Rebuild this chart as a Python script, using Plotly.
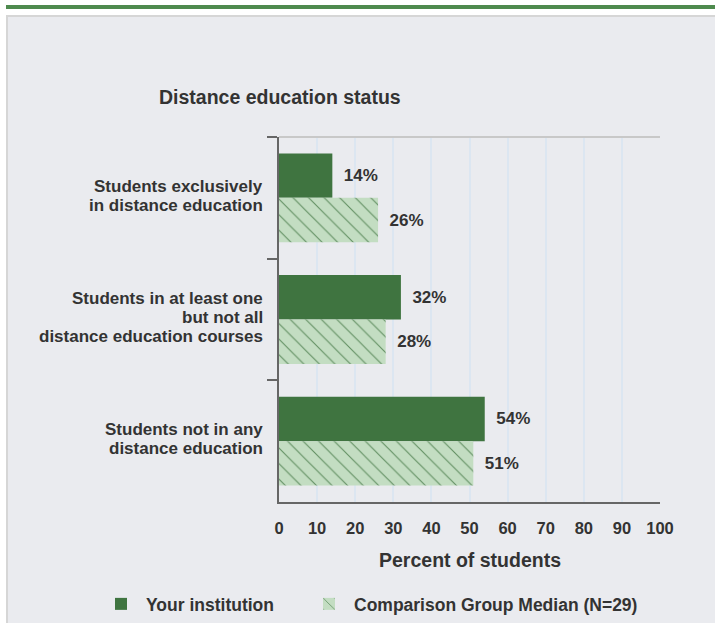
import plotly.graph_objects as go

categories = [
    "Students exclusively<br>in distance education",
    "Students in at least one<br>but not all<br>distance education courses",
    "Students not in any<br>distance education",
]
your_institution = [14, 32, 54]
comparison_median = [26, 28, 51]
series_names = ["Your institution", "Comparison Group Median (N=29)"]
x_ticks = list(range(0, 101, 10))

W, H = 715, 623
L, R, T, B = 279, 660, 137, 502


def px(x):
    return (x - L) / (R - L)


def py(y):
    return (B - y) / (B - T)


DARK = "#3F7440"
LIGHT = "#C3DDC2"
TXT = "#333333"
FONT = "Liberation Sans"

fig = go.Figure()
fig.add_trace(go.Bar(
    y=categories, x=your_institution, orientation="h", name=series_names[0],
    marker=dict(color=DARK, line=dict(width=0)),
    text=["\u2002" + f"{v}%" for v in your_institution], textposition="outside",
    textfont=dict(family=FONT, size=17, color=TXT, weight="bold"),
    cliponaxis=False, legend="legend",
))
fig.add_trace(go.Bar(
    y=categories, x=comparison_median, orientation="h", name=series_names[1],
    marker=dict(color=LIGHT, line=dict(width=0),
                pattern=dict(shape="\\", fgcolor=DARK, bgcolor=LIGHT, size=11,
                             solidity=0.1, fgopacity=0.75)),
    text=["\u2002" + f"{v}%" for v in comparison_median], textposition="outside",
    textfont=dict(family=FONT, size=17, color=TXT, weight="bold"),
    cliponaxis=False, legend="legend2",
))

shapes = [
    dict(type="rect", xref="paper", yref="paper", x0=px(6), x1=px(716), y0=py(9), y1=py(5),
         fillcolor="#4E8A4E", line=dict(width=0), layer="below"),
    dict(type="rect", xref="paper", yref="paper", x0=px(7), x1=px(730), y0=py(640), y1=py(16),
         fillcolor="#EAEBEF", line=dict(color="#D6D6D6", width=2), layer="below"),
    dict(type="line", xref="paper", yref="paper", x0=0, x1=1, y0=1, y1=1,
         line=dict(color="#C8C8C8", width=2), layer="above"),
]

annotations = [
    dict(text="<b>Distance education status</b>", xref="paper", yref="paper",
         x=px(280), y=py(97), xanchor="center", yanchor="middle", showarrow=False,
         font=dict(family=FONT, size=19.5, color=TXT)),
    dict(text="<b>Percent of students</b>", xref="paper", yref="paper",
         x=0.5, y=py(560), xanchor="center", yanchor="middle", showarrow=False,
         font=dict(family=FONT, size=19.5, color=TXT)),
]

# category labels, one annotation per line for tight line spacing
LINE = 19
for cat in categories:
    lines = cat.split("<br>")
    n = len(lines)
    for j, ln in enumerate(lines):
        annotations.append(dict(
            text="<b>" + ln + "</b>", xref="paper", yref="y", x=px(265), y=cat,
            xanchor="right", yanchor="middle", showarrow=False, height=LINE,
            yshift=((n - 1) / 2 - j) * LINE + 2,
            font=dict(family=FONT, size=17, color=TXT),
        ))

legend_common = dict(orientation="h", xanchor="left", yanchor="middle",
                     font=dict(family=FONT, size=17.5, color=TXT, weight="bold"),
                     bgcolor="rgba(0,0,0,0)", itemwidth=40)

fig.update_layout(
    width=W, height=H, autosize=False,
    margin=dict(l=L, r=W - R, t=T, b=H - B, pad=0, autoexpand=False),
    paper_bgcolor="white", plot_bgcolor="#F5F5F5",
    barmode="group", bargap=0.27, bargroupgap=0,
    showlegend=True,
    legend=dict(x=px(96), y=py(604), **legend_common),
    legend2=dict(x=px(304), y=py(604), **legend_common),
    shapes=shapes, annotations=annotations,
    font=dict(family=FONT, color=TXT),
)
fig.update_xaxes(
    range=[0, 100], tickvals=x_ticks, ticktext=[str(v) for v in x_ticks],
    showgrid=True, gridcolor="#DCE6F1", gridwidth=2, zeroline=False,
    showline=True, linecolor="#666666", linewidth=2,
    ticks="", ticklabelstandoff=10,
    tickfont=dict(family=FONT, size=16.5, color=TXT, weight="bold"),
    fixedrange=True,
)
fig.update_yaxes(
    autorange="reversed", showgrid=False, zeroline=False,
    showline=True, linecolor="#666666", linewidth=2,
    ticks="outside", tickson="boundaries", ticklen=10, tickcolor="#666666", tickwidth=2,
    showticklabels=False,
    fixedrange=True,
)

fig.write_html("out.html", config={"displayModeBar": False},
               post_script="document.body.style.margin='0';")
